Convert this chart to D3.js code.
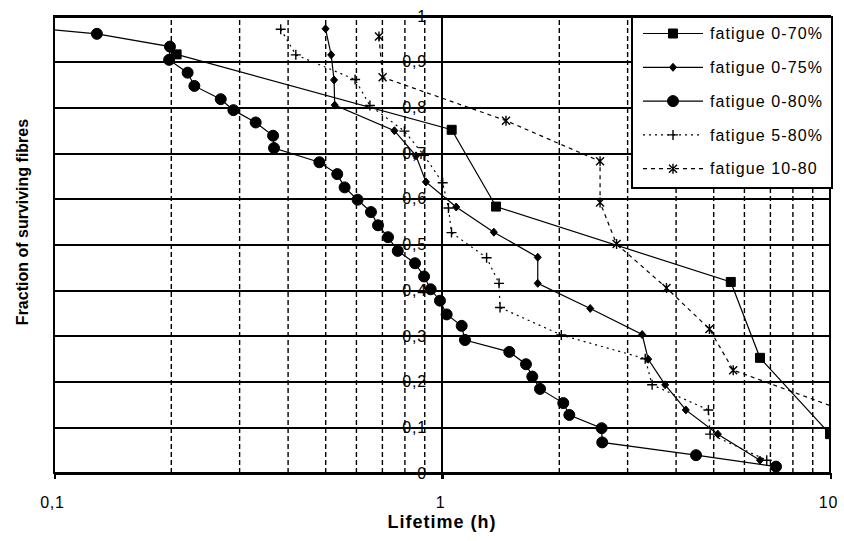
<!DOCTYPE html>
<html>
<head>
<meta charset="utf-8">
<script src="https://cdn.jsdelivr.net/npm/d3@7"></script>
<style>
    body { margin: 0; background: #fff; }
    svg text { font-family: Arial, "Liberation Sans", sans-serif; fill: #000; }
</style>
</head>
<body>
<svg id="chart"></svg>
<script>
// Fraction of surviving fibres vs lifetime (h), log x axis

const seriesNames = ["fatigue 0-70%", "fatigue 0-75%", "fatigue 0-80%", "fatigue 5-80%", "fatigue 10-80"]

const xTicks = [0.1, 1, 10]
const xMinorTicks = [0.2, 0.3, 0.4, 0.5, 0.6, 0.7, 0.8, 0.9, 2, 3, 4, 5, 6, 7, 8, 9]
const yTicks = [0, 0.1, 0.2, 0.3, 0.4, 0.5, 0.6, 0.7, 0.8, 0.9, 1]

// fatigue 0-70%
const lifetime070 = [0.207, 1.059, 1.378, 5.55, 6.60, 10.0]
const fraction070 = [0.916, 0.751, 0.583, 0.418, 0.252, 0.085]

// fatigue 0-75%
const lifetime075 = [0.501, 0.518, 0.527, 0.529, 0.754, 0.857, 0.909, 1.088, 1.360, 1.765, 1.765, 2.41, 3.28, 3.40, 3.76, 4.25, 5.14, 6.60]
const fraction075 = [0.972, 0.915, 0.860, 0.805, 0.749, 0.694, 0.637, 0.582, 0.527, 0.472, 0.415, 0.360, 0.303, 0.249, 0.193, 0.138, 0.085, 0.028]

// fatigue 0-80% (first point lies left of 0,1)
const lifetime080 = [0.062, 0.129, 0.199, 0.198, 0.221, 0.230, 0.269, 0.290, 0.331, 0.367, 0.369, 0.483, 0.537, 0.561, 0.606, 0.656, 0.684, 0.726, 0.769, 0.852, 0.899, 0.935, 0.988, 1.028, 1.124, 1.146, 1.491, 1.646, 1.709, 1.789, 2.054, 2.129, 2.579, 2.588, 4.515, 7.26]
const fraction080 = [0.986, 0.961, 0.933, 0.904, 0.876, 0.847, 0.818, 0.794, 0.767, 0.738, 0.711, 0.680, 0.654, 0.625, 0.598, 0.571, 0.542, 0.516, 0.486, 0.459, 0.430, 0.402, 0.377, 0.347, 0.322, 0.291, 0.265, 0.238, 0.211, 0.184, 0.153, 0.127, 0.098, 0.067, 0.039, 0.014]

// fatigue 5-80%
const lifetime580 = [0.384, 0.420, 0.597, 0.652, 0.800, 0.899, 1.004, 1.039, 1.058, 1.303, 1.403, 1.411, 2.03, 3.34, 3.48, 4.86, 4.91, 6.87]
const fraction580 = [0.971, 0.915, 0.861, 0.804, 0.748, 0.695, 0.635, 0.580, 0.526, 0.471, 0.415, 0.362, 0.302, 0.250, 0.193, 0.138, 0.085, 0.028]

// fatigue 10-80 (last two points lie right of 10)
const lifetime1080 = [0.688, 0.703, 1.462, 2.555, 2.555, 2.818, 3.79, 4.89, 5.63, 10.9, 14.0]
const fraction1080 = [0.955, 0.866, 0.771, 0.682, 0.592, 0.501, 0.405, 0.315, 0.225, 0.136, 0.045]


let svgWidth = 844
let svgHeight = 541
let plot = { left: 54, right: 830, top: 16, bottom: 473 }
let plotWidth = plot.right - plot.left
let plotHeight = plot.bottom - plot.top

const svg = d3.select("#chart")
    .attr("width", svgWidth)
    .attr("height", svgHeight)

const xScale = d3.scaleLog()
    .domain([0.1, 10])
    .range([plot.left, plot.right])

const yScale = d3.scaleLinear()
    .domain([0, 1])
    .range([plot.bottom, plot.top])

function numberFormatPT(num) {
    return num.toString().replace(".", ",")
}

svg.append("defs").append("clipPath")
    .attr("id", "plotClip")
    .append("rect")
    .attr("x", plot.left)
    .attr("y", plot.top)
    .attr("width", plotWidth)
    .attr("height", plotHeight)

// dashed vertical grid (minor log ticks)
svg.append("g")
    .attr("transform", `translate(0, ${plot.bottom})`)
    .call(d3.axisBottom(xScale).tickValues(xMinorTicks).tickSize(-plotHeight).tickFormat(""))
    .call(g => g.select(".domain").remove())
    .selectAll("line")
    .style("stroke", "#000")
    .style("stroke-width", 1.4)
    .style("stroke-dasharray", "5,3")

// solid horizontal grid
svg.append("g")
    .attr("transform", `translate(${plot.left}, 0)`)
    .call(d3.axisLeft(yScale).tickValues(yTicks).tickSize(-plotWidth).tickFormat(""))
    .call(g => g.select(".domain").remove())
    .selectAll("line")
    .style("stroke", "#000")
    .style("stroke-width", 2)
    .style("shape-rendering", "crispEdges")

// plot border
svg.append("rect")
    .attr("x", plot.left)
    .attr("y", plot.top)
    .attr("width", plotWidth)
    .attr("height", plotHeight)
    .attr("fill", "none")
    .attr("stroke", "#000")
    .attr("stroke-width", 2)
    .style("shape-rendering", "crispEdges")

// x axis: decade ticks and labels
var xAxis = svg.append("g")
    .attr("transform", `translate(0, ${plot.bottom})`)
    .call(d3.axisBottom(xScale).tickValues(xTicks).tickSize(6).tickPadding(18).tickFormat(numberFormatPT))
xAxis.select(".domain").remove()
xAxis.selectAll("line").style("stroke", "#000").style("stroke-width", 2).style("shape-rendering", "crispEdges")
xAxis.selectAll("text")
    .attr("dx", "-2")
    .style("font-size", "16px")
    .style("letter-spacing", "0.8px")

// y axis sits on x = 1
var yAxis = svg.append("g")
    .attr("transform", `translate(${xScale(1)}, 0)`)
    .call(d3.axisLeft(yScale).tickValues(yTicks).tickSize(0).tickPadding(15).tickFormat(d => numberFormatPT(+d.toFixed(1))))
yAxis.select(".domain")
    .attr("d", `M0,${plot.top}V${plot.bottom + 6}`)
    .style("stroke", "#000")
    .style("stroke-width", 2)
    .style("shape-rendering", "crispEdges")
yAxis.selectAll("text")
    .style("font-size", "16px")
    .style("letter-spacing", "0.8px")

// axis titles
svg.append("text")
    .attr("x", xScale(1))
    .attr("y", 528)
    .attr("text-anchor", "middle")
    .style("font-size", "18px")
    .style("font-weight", "bold")
    .style("letter-spacing", "1px")
    .text("Lifetime (h)")

svg.append("text")
    .attr("transform", "translate(28, 222) rotate(-90)")
    .attr("text-anchor", "middle")
    .style("font-size", "16px")
    .style("font-weight", "bold")
    .text("Fraction of surviving fibres")

// markers
const markerPaths = {
    square: "M-4.5,-4.5H4.5V4.5H-4.5Z",
    diamond: "M0,-4L3.5,0L0,4L-3.5,0Z",
    circle: d3.symbol(d3.symbolCircle, 95)(),
    plus: "M-5,0H5M0,-5V5",
    star: "M-4,-4L4,4M-4,4L4,-4M0,-5V5"
}

const series = [
    { name: seriesNames[0], x: lifetime070, y: fraction070, marker: "square", dash: null },
    { name: seriesNames[1], x: lifetime075, y: fraction075, marker: "diamond", dash: null },
    { name: seriesNames[2], x: lifetime080, y: fraction080, marker: "circle", dash: null },
    { name: seriesNames[3], x: lifetime580, y: fraction580, marker: "plus", dash: "2,4" },
    { name: seriesNames[4], x: lifetime1080, y: fraction1080, marker: "star", dash: "4,4" }
]

function drawMarker(g, marker) {
    var filled = marker == "square" || marker == "diamond" || marker == "circle"
    g.append("path")
        .attr("d", markerPaths[marker])
        .attr("fill", filled ? "#000" : "none")
        .attr("stroke", "#000")
        .attr("stroke-width", filled ? 1 : 1.4)
}

const line = d3.line()
    .x(d => xScale(d[0]))
    .y(d => yScale(d[1]))

const seriesLayer = svg.append("g").attr("clip-path", "url(#plotClip)")

series.forEach(s => {
    var points = s.x.map((v, i) => [v, s.y[i]])

    seriesLayer.append("path")
        .datum(points)
        .attr("d", line)
        .attr("fill", "none")
        .attr("stroke", "#000")
        .attr("stroke-width", 1.2)
        .attr("stroke-dasharray", s.dash)

    seriesLayer.append("g")
        .selectAll("g")
        .data(points)
        .join("g")
        .attr("transform", d => `translate(${xScale(d[0])}, ${yScale(d[1])})`)
        .each(function () { drawMarker(d3.select(this), s.marker) })
})

// legend
const legend = svg.append("g").attr("transform", "translate(632, 17)")

legend.append("rect")
    .attr("width", 200)
    .attr("height", 171)
    .attr("fill", "#fff")
    .attr("stroke", "#000")
    .attr("stroke-width", 2)
    .style("shape-rendering", "crispEdges")

const legendRow = legend.selectAll(".row")
    .data(series)
    .join("g")
    .attr("class", "row")
    .attr("transform", (d, i) => `translate(0, ${16.5 + i * 33.8})`)

legendRow.append("line")
    .attr("x1", 11)
    .attr("x2", 71)
    .attr("stroke", "#000")
    .attr("stroke-width", 1.2)
    .attr("stroke-dasharray", d => d.dash)

legendRow.append("g")
    .attr("transform", "translate(41, 0)")
    .each(function (d) { drawMarker(d3.select(this), d.marker) })

legendRow.append("text")
    .attr("x", 78)
    .attr("dy", "0.36em")
    .style("font-size", "16px")
    .style("letter-spacing", "1.1px")
    .text(d => d.name)
</script>
</body>
</html>
